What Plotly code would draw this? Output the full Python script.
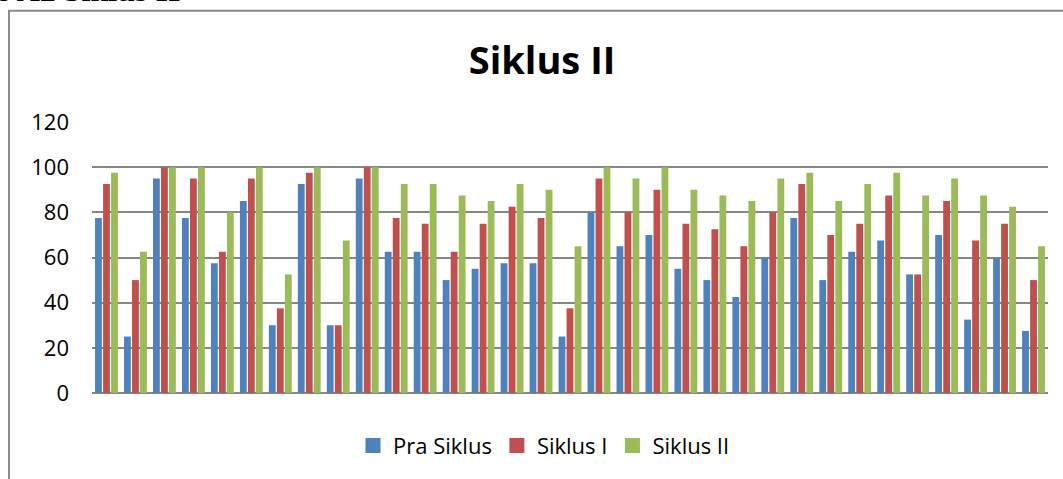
import plotly.graph_objects as go

# Data (33 students, scores per cycle)
students = [str(i) for i in range(1, 34)]
pra_siklus = [77.5, 25, 95, 77.5, 57.5, 85, 30, 92.5, 30, 95,
              62.5, 62.5, 50, 55, 57.5, 57.5, 25, 80, 65, 70,
              55, 50, 42.5, 60, 77.5, 50, 62.5, 67.5, 52.5, 70,
              32.5, 60, 27.5]
siklus_1 = [92.5, 50, 100, 95, 62.5, 95, 37.5, 97.5, 30, 100,
            77.5, 75, 62.5, 75, 82.5, 77.5, 37.5, 95, 80, 90,
            75, 72.5, 65, 80, 92.5, 70, 75, 87.5, 52.5, 85,
            67.5, 75, 50]
siklus_2 = [97.5, 62.5, 100, 100, 80, 100, 52.5, 100, 67.5, 100,
            92.5, 92.5, 87.5, 85, 92.5, 90, 65, 100, 95, 100,
            90, 87.5, 85, 95, 97.5, 85, 92.5, 97.5, 87.5, 95,
            87.5, 82.5, 65]

W, H = 1063, 479
L, R, T, B = 92, 15, 122, 84
pw, ph = W - L - R, H - T - B


def px_x(x):
    return (x - L) / pw


def px_y(y):
    return (H - B - y) / ph


fig = go.Figure()
series = [("Pra Siklus", pra_siklus, "#4F81BD"),
          ("Siklus I", siklus_1, "#C0504D"),
          ("Siklus II", siklus_2, "#9BBB59")]
for name, vals, col in series:
    fig.add_trace(go.Bar(x=students, y=vals, name=name, marker_color=col,
                         marker_line=dict(width=0), showlegend=False))
# legend entries with bigger square keys
for name, vals, col in series:
    fig.add_trace(go.Scatter(x=[None], y=[None], mode="markers", name=name,
                             marker=dict(symbol="square", size=15, color=col)))

fig.update_layout(
    width=W, height=H,
    margin=dict(l=L, r=R, t=T, b=B),
    paper_bgcolor="white", plot_bgcolor="white",
    barmode="group", bargap=0.17, bargroupgap=0.15,
    font=dict(family="Open Sans", color="#000000"),
    title=dict(text="<b>Siklus II</b>", font=dict(size=38, color="#000000"),
               x=542 / W, xanchor="center", xref="container",
               y=1 - 61 / H, yanchor="middle", yref="container"),
    legend=dict(orientation="h", x=px_x(544), xanchor="center",
                y=px_y(448), yanchor="middle", font=dict(size=22),
                itemwidth=30, traceorder="normal"),
    showlegend=True,
)

fig.update_xaxes(showticklabels=False, showgrid=False, showline=False,
                 zeroline=False, ticks="")
fig.update_yaxes(range=[0, 120], dtick=20, showgrid=True, gridcolor="#878787",
                 gridwidth=1.8, zeroline=True, zerolinecolor="#878787",
                 zerolinewidth=1.8, showline=False, ticks="",
                 tickfont=dict(size=22), ticklabelstandoff=22)

# outer frame of the embedded chart
fig.add_shape(type="rect", xref="paper", yref="paper",
              x0=px_x(9), x1=px_x(1075), y0=px_y(10), y1=px_y(495),
              line=dict(color="#8C8C8C", width=2), fillcolor="rgba(0,0,0,0)")

# clipped caption line from the document above the chart
fig.add_annotation(text="<b>s A2 Siklus II</b>", xref="paper", yref="paper",
                   x=px_x(-4), xanchor="left", y=px_y(9), yanchor="bottom",
                   showarrow=False,
                   font=dict(family="Liberation Serif", size=32, color="#000000"))

fig.write_html("out.html", config={"displayModeBar": False},
               post_script="document.body.style.margin='0';")
